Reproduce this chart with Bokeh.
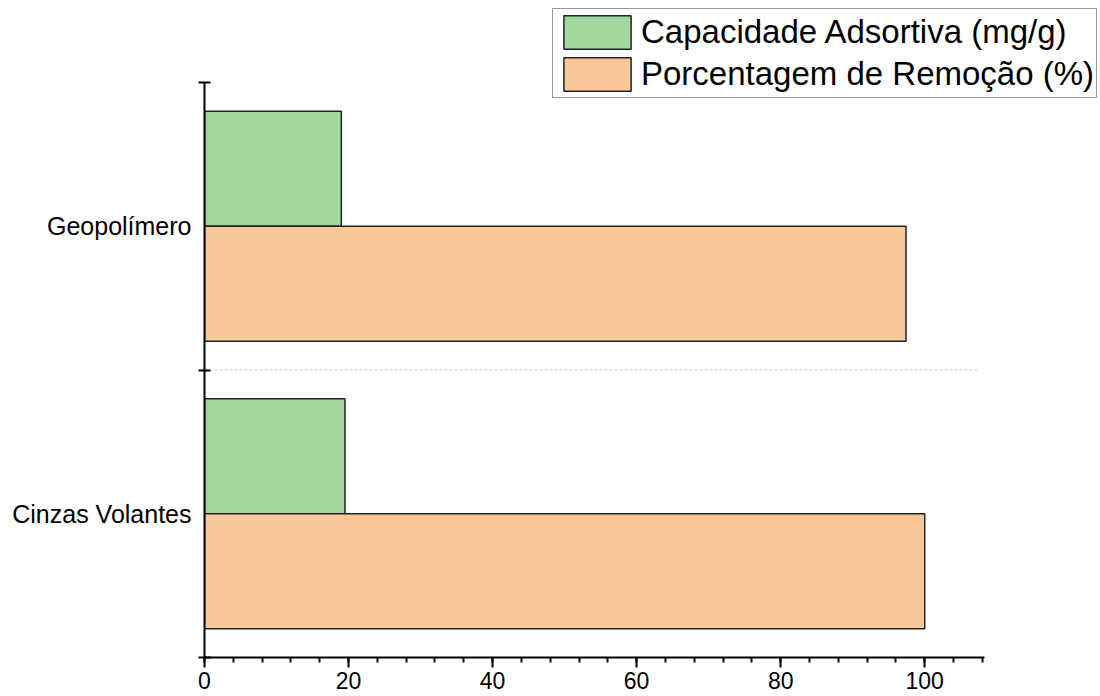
from bokeh.plotting import figure
from bokeh.models import (FixedTicker, Range1d, Legend, LegendItem, ColumnDataSource)
from bokeh.embed import file_html
from bokeh.resources import INLINE

categories = ["Cinzas Volantes", "Geopolímero"]
capacidade = [19.5, 19.0]      # Capacidade Adsortiva (mg/g)
remocao = [100.0, 97.4]        # Porcentagem de Remoção (%)
series_names = ["Capacidade Adsortiva (mg/g)", "Porcentagem de Remoção (%)"]
x_ticks = [0, 20, 40, 60, 80, 100]
x_axis_end = 108.3

FONT = "Liberation Sans"
GREEN = "#A0D89D"
ORANGE = "#FAC898"

n = len(categories)
centers = [i + 0.5 for i in range(n)]
bar_h = 0.4

W, H = 1100, 696
left_px, bottom_px, top_px = 204, 39, 82      # where the axes sit
axis_right_px = 984
frame_w = W - left_px
frame_h = H - bottom_px
px_per_x = (axis_right_px - left_px) / x_axis_end
px_per_y = (frame_h - top_px) / n

src = ColumnDataSource(dict(
    cat=categories,
    y_green=[c + bar_h / 2 for c in centers],
    y_orange=[c - bar_h / 2 for c in centers],
    cap=capacidade,
    rem=remocao,
))

p = figure(width=W, height=H, output_backend="svg", toolbar_location=None,
           x_range=Range1d(0, frame_w / px_per_x),
           y_range=Range1d(0, frame_h / px_per_y),
           min_border_left=left_px, min_border_right=0, min_border_top=0,
           min_border_bottom=bottom_px)
p.outline_line_color = None
p.background_fill_color = "white"
p.border_fill_color = "white"

# dashed separator between categories
bounds_y = list(range(1, n))
p.segment(x0=[0] * len(bounds_y), x1=[x_axis_end - 1] * len(bounds_y),
          y0=bounds_y, y1=bounds_y, line_color="#cccccc", line_dash="3 2",
          line_width=1)

g = p.hbar(y="y_green", right="cap", left=0, height=bar_h, source=src,
           fill_color=GREEN, line_color="#222222", line_width=1.5)
o = p.hbar(y="y_orange", right="rem", left=0, height=bar_h, source=src,
           fill_color=ORANGE, line_color="#222222", line_width=1.5)

# x axis
xa = p.xaxis[0]
xa.bounds = (0, x_axis_end)
xa.ticker = FixedTicker(ticks=x_ticks, minor_ticks=list(range(0, 109, 4)))
xa.axis_line_width = 2
xa.major_tick_line_width = 2
xa.minor_tick_line_width = 2
xa.major_tick_in = 0
xa.major_tick_out = 10
xa.minor_tick_in = 0
xa.minor_tick_out = 5
xa.major_label_text_font = FONT
xa.major_label_text_font_size = "23px"
xa.major_label_text_color = "black"
xa.major_label_standoff = 4
xa.axis_line_color = "black"
xa.major_tick_line_color = "black"
xa.minor_tick_line_color = "black"

# y axis
ya = p.yaxis[0]
ya.bounds = (0, n)
ya.ticker = FixedTicker(ticks=centers, minor_ticks=list(range(0, n + 1)))
ya.major_label_overrides = {c: cat for c, cat in zip(centers, categories)}
ya.axis_line_width = 2
ya.major_tick_in = 0
ya.major_tick_out = 0
ya.minor_tick_in = 6
ya.minor_tick_out = 6
ya.minor_tick_line_width = 2
ya.minor_tick_line_color = "black"
ya.axis_line_color = "black"
ya.major_label_text_font = FONT
ya.major_label_text_font_size = "25px"
ya.major_label_text_color = "black"
ya.major_label_standoff = 7

p.xgrid.grid_line_color = None
p.ygrid.grid_line_color = None

legend = Legend(items=[LegendItem(label=series_names[0], renderers=[g]),
                       LegendItem(label=series_names[1], renderers=[o])],
                location=(348, 559))
legend.label_text_font = FONT
legend.label_text_font_size = "33px"
legend.label_text_color = "black"
legend.glyph_width = 84
legend.glyph_height = 42
legend.label_height = 42
legend.label_standoff = 2
legend.padding = 2
legend.spacing = 0
legend.margin = 0
legend.border_line_color = "#333333"
legend.border_line_width = 1.5
legend.background_fill_alpha = 1.0
p.add_layout(legend, "center")

open("out.html", "w").write(file_html(p, INLINE))
